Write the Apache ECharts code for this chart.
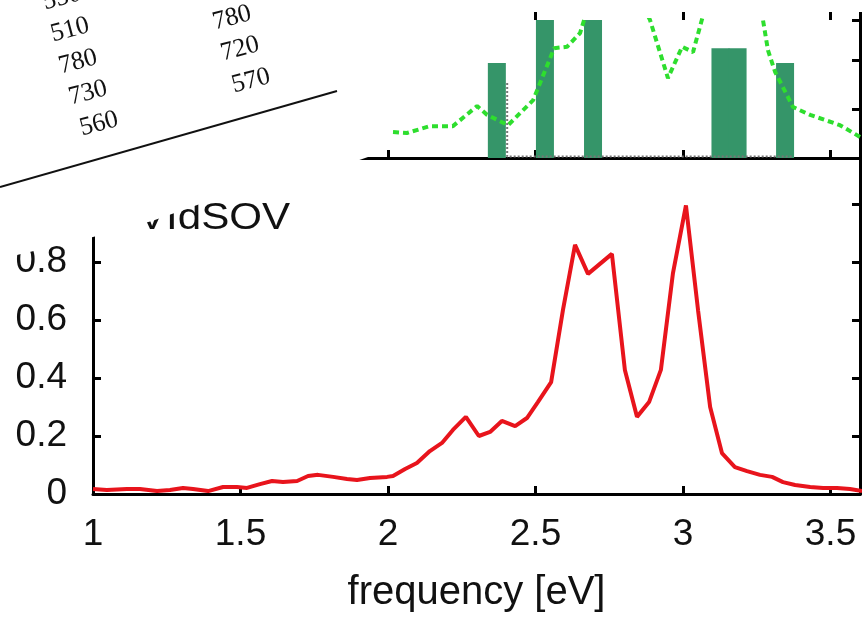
<!DOCTYPE html>
<html>
<head>
<meta charset="utf-8">
<script src="https://cdn.jsdelivr.net/npm/echarts@6/dist/echarts.min.js"></script>
<style>
  html, body { margin: 0; padding: 0; background: #fff; }
  #chart { width: 865px; height: 620px; }
</style>
</head>
<body>
<div id="chart"></div>
<script>
// absorption spectrum (bottom panel)
var redFreq = [1.000, 1.047, 1.115, 1.159, 1.217, 1.261, 1.305, 1.339, 1.390, 1.441, 1.488, 1.522, 1.566, 1.607,
  1.644, 1.692, 1.729, 1.763, 1.814, 1.861, 1.895, 1.939, 1.997, 2.017, 2.058, 2.098, 2.142, 2.183, 2.220,
  2.264, 2.308, 2.346, 2.386, 2.431, 2.471, 2.508, 2.553, 2.593, 2.634, 2.678, 2.759, 2.803, 2.844, 2.885,
  2.925, 2.966, 3.010, 3.051, 3.092, 3.132, 3.176, 3.217, 3.261, 3.302, 3.339, 3.380, 3.431, 3.475, 3.522,
  3.566, 3.607];
var redVal = [0.017, 0.014, 0.017, 0.017, 0.010, 0.014, 0.021, 0.017, 0.010, 0.024, 0.024, 0.021, 0.034, 0.045,
  0.041, 0.045, 0.062, 0.066, 0.059, 0.052, 0.048, 0.055, 0.059, 0.062, 0.086, 0.107, 0.148, 0.176, 0.221,
  0.266, 0.200, 0.214, 0.252, 0.234, 0.262, 0.317, 0.386, 0.634, 0.859, 0.759, 0.828, 0.428, 0.266, 0.317,
  0.428, 0.762, 0.995, 0.634, 0.300, 0.141, 0.093, 0.079, 0.066, 0.059, 0.041, 0.031, 0.024, 0.021, 0.021,
  0.017, 0.010];

// top panel: broadened curve, sticks and the dotted trace
var greenFreq = [2.017, 2.064, 2.142, 2.220, 2.302, 2.336, 2.407, 2.492, 2.563, 2.607, 2.651, 2.700, 2.760,
  2.830, 2.888, 2.912, 2.949, 2.997, 3.034, 3.064, 3.100, 3.160, 3.230, 3.271, 3.288, 3.312, 3.373, 3.431,
  3.532, 3.600];
var greenVal = [0.53, 0.51, 0.65, 0.65, 1.06, 0.88, 0.67, 1.18, 2.24, 2.27, 2.55, 3.50, 3.90,
  3.50, 2.82, 2.35, 1.63, 2.27, 2.16, 2.82, 3.60, 4.00, 3.60, 2.82, 2.20, 1.76, 1.04, 0.88,
  0.67, 0.43];
var barFreq = [2.369, 2.532, 2.695, 3.127, 3.185, 3.346];
var barVal = [1.94, 3.40, 3.10, 2.24, 2.24, 1.94];
var grayFreq = [2.404, 2.404, 3.370];
var grayVal = [1.53, 0.03, 0.03];

// scanned table in the corner
var tableText = ['550', '510', '780', '730', '560', '780', '720', '570'];
var tableX = [62, 70, 78, 88, 99, 232, 240, 251];
var tableY = [-2, 30, 62, 93, 124, 18, 49, 81];

function pairs(xs, ys) {
  var out = [];
  for (var i = 0; i < xs.length; i++) out.push([xs[i], ys[i]]);
  return out;
}

var FONT = 'Liberation Sans';
var black = '#000';

var graphics = [];
// white mask of the photo cutting the title and axes
graphics.push({
  type: 'polygon', z: 50,
  shape: { points: [[0, 0], [390, 0], [390, 128], [368, 157], [290, 184], [200, 204], [152, 221], [93, 237], [0, 259]] },
  style: { fill: '#fff' }
});
graphics.push({
  type: 'text', z: 40, x: 138, y: 219, scaleX: 1.17,
  style: { text: 'VIdSOV', font: '36px "' + FONT + '"', fill: '#111', textAlign: 'left', textVerticalAlign: 'middle' }
});
for (var i = 0; i < tableText.length; i++) {
  graphics.push({
    type: 'text', z: 60, x: tableX[i], y: tableY[i], rotation: 0.26,
    style: { text: tableText[i], font: '26px "Liberation Serif"', fill: '#111', textAlign: 'center', textVerticalAlign: 'middle' }
  });
}
graphics.push({
  type: 'line', z: 60,
  shape: { x1: 0, y1: 187, x2: 337, y2: 91 },
  style: { stroke: '#111', lineWidth: 2 }
});

var axisLine = { show: true, lineStyle: { color: black, width: 3 } };
var tickIn = { show: true, inside: true, length: 8, lineStyle: { color: black, width: 3 } };

var option = {
  backgroundColor: '#fff',
  animation: false,
  grid: [
    { left: 93, right: 5, top: 204, bottom: 126 },
    { left: 93, right: 5, top: 20, bottom: 462 },
    { left: 93, right: 5, top: 20, bottom: 126 }
  ],
  xAxis: [
    {
      gridIndex: 0, type: 'value', min: 1, max: 3.6, interval: 0.5,
      axisLine: axisLine, axisTick: tickIn, splitLine: { show: false },
      axisLabel: { color: '#111', fontFamily: FONT, fontSize: 37, margin: 22 },
      name: 'frequency [eV]', nameLocation: 'middle', nameGap: 79,
      nameTextStyle: { color: '#111', fontFamily: FONT, fontSize: 40 }
    },
    {
      gridIndex: 1, type: 'value', min: 1, max: 3.6, interval: 0.5,
      axisLine: axisLine, axisTick: tickIn, splitLine: { show: false }, axisLabel: { show: false }
    },
    {
      gridIndex: 1, type: 'value', min: 1, max: 3.6, interval: 0.5, offset: 0,
      axisLine: { show: false }, splitLine: { show: false }, axisLabel: { show: false },
      axisTick: { show: true, inside: false, length: 8, lineStyle: { color: black, width: 3 } }
    },
    {
      gridIndex: 2, type: 'value', min: 1, max: 3.6, show: false
    }
  ],
  yAxis: [
    {
      gridIndex: 0, type: 'value', min: 0, max: 1, interval: 0.2, position: 'left',
      axisLine: axisLine, axisTick: tickIn, splitLine: { show: false },
      axisLabel: { color: '#111', fontFamily: FONT, fontSize: 37, margin: 26 }
    },
    {
      gridIndex: 1, type: 'value', min: 0, max: 2.816, interval: 1, position: 'right',
      axisLine: axisLine, axisTick: tickIn, splitLine: { show: false }, axisLabel: { show: false }
    },
    {
      gridIndex: 0, type: 'value', min: 0, max: 1, interval: 0.2, position: 'right',
      axisLine: axisLine, axisTick: tickIn, splitLine: { show: false }, axisLabel: { show: false }
    },
    {
      gridIndex: 2, type: 'value', min: 0, max: 1, position: 'right',
      axisLine: axisLine, axisTick: { show: false }, splitLine: { show: false }, axisLabel: { show: false }
    }
  ],
  series: [
    {
      type: 'line', xAxisIndex: 0, yAxisIndex: 0, data: pairs(redFreq, redVal),
      symbol: 'none', clip: false, z: 5,
      lineStyle: { color: '#e8141c', width: 4 }
    },
    {
      type: 'line', xAxisIndex: 1, yAxisIndex: 1, data: pairs(greenFreq, greenVal),
      symbol: 'none', clip: true,
      lineStyle: { color: '#2ede2e', width: 4, type: [6, 4] }
    },
    {
      type: 'bar', xAxisIndex: 1, yAxisIndex: 1, data: pairs(barFreq, barVal),
      barWidth: 18, itemStyle: { color: '#359569' }
    },
    {
      type: 'line', xAxisIndex: 1, yAxisIndex: 1, data: pairs(grayFreq, grayVal),
      symbol: 'none', lineStyle: { color: '#777', width: 2, type: 'dotted' }
    }
  ],
  graphic: graphics
};

var chart = echarts.init(document.getElementById('chart'));
chart.setOption(option);
</script>
</body>
</html>
